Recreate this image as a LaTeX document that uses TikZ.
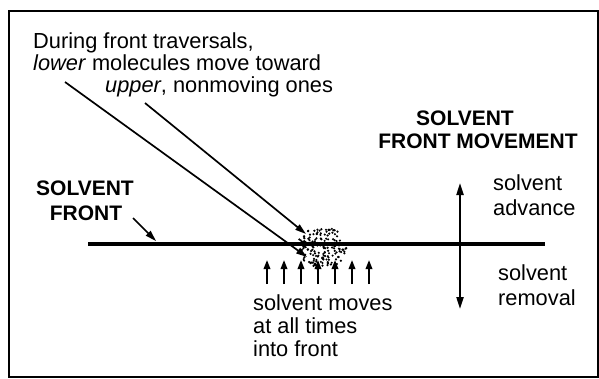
\documentclass[tikz,border=0pt]{standalone}
\usepackage{fontspec}
\setmainfont{Liberation Sans}
\usetikzlibrary{arrows.meta}

\begin{document}
\begin{tikzpicture}[
  x=1pt, y=-1pt,
  font=\fontsize{21.8}{23}\selectfont,
  txt/.style={inner sep=0pt, anchor=base west},
  head/.style={inner sep=0pt, anchor=base, font=\fontsize{21}{23}\selectfont\bfseries},
  arrow/.style={-{Triangle[length=11pt,width=6.5pt]}, draw=black, line width=1.7pt},
  small/.style={-{Triangle[length=9pt,width=6.5pt]}, draw=black, line width=1.8pt},
  twoway/.style={{Triangle[length=12pt,width=7pt]}-{Triangle[length=12pt,width=7pt]}, draw=black, line width=2.1pt}
]
\useasboundingbox (0,0) rectangle (599,378);
\draw[line width=2.4pt] (9,11) rectangle (598,377);

% caption at top left
\node[txt] (during) at (33,48) {During front traversals,};
\node[txt] (lower) at (33,70) {\textit{lower} molecules move toward};
\node[txt] (upper) at (105,92) {\textit{upper}, nonmoving ones};

% the front itself
\coordinate (frontL) at (88,244);
\coordinate (frontR) at (545,244);
\draw[line width=3.2pt] (frontL) -- (frontR);

\node[head] (sf1) at (85,195) {SOLVENT};
\node[head] (sf2) at (86,220) {FRONT};
\coordinate (sfA) at (133,218);
\coordinate (sfB) at (156,241);
\draw[arrow] (sfA) -- (sfB);

% molecules at the front
\coordinate (blob) at (322,248);
\pgfmathsetseed{11}
\foreach \i in {1,...,165}{
  \pgfmathsetmacro{\ang}{360*rnd}
  \pgfmathsetmacro{\rad}{sqrt(rnd)}
  \pgfmathsetmacro{\dx}{26*\rad*cos(\ang)}
  \pgfmathsetmacro{\dy}{21*\rad*sin(\ang)}
  \fill ([shift={(\dx,\dy)}]blob) circle (1.2);
}

\coordinate (lowS) at (65,82);
\coordinate (lowT) at (307,257);
\coordinate (upS) at (145,103);
\coordinate (upT) at (306,234);
\draw[arrow] (lowS) -- (lowT);
\draw[arrow] (upS) -- (upT);

% solvent entering from below
\foreach \x [count=\k] in {267,284,301,318,335,352,369}{
  \coordinate (in\k) at (\x,284);
  \coordinate (to\k) at (\x,260);
  \draw[small] (in\k) -- (to\k);
}
\node[txt] (mv1) at (253,310) {solvent moves};
\node[txt] (mv2) at (253,333) {at all times};
\node[txt] (mv3) at (253,356) {into front};

% movement of the front
\node[head] (fm1) at (465,125) {SOLVENT};
\node[head] (fm2) at (478,148) {FRONT MOVEMENT};
\coordinate (adv) at (460,183);
\coordinate (rem) at (460,309);
\draw[twoway] (rem) -- (adv);
\node[txt] (ad1) at (493,190) {solvent};
\node[txt] (ad2) at (493,215) {advance};
\node[txt] (re1) at (498,280) {solvent};
\node[txt] (re2) at (498,305) {removal};
\end{tikzpicture}
\end{document}
